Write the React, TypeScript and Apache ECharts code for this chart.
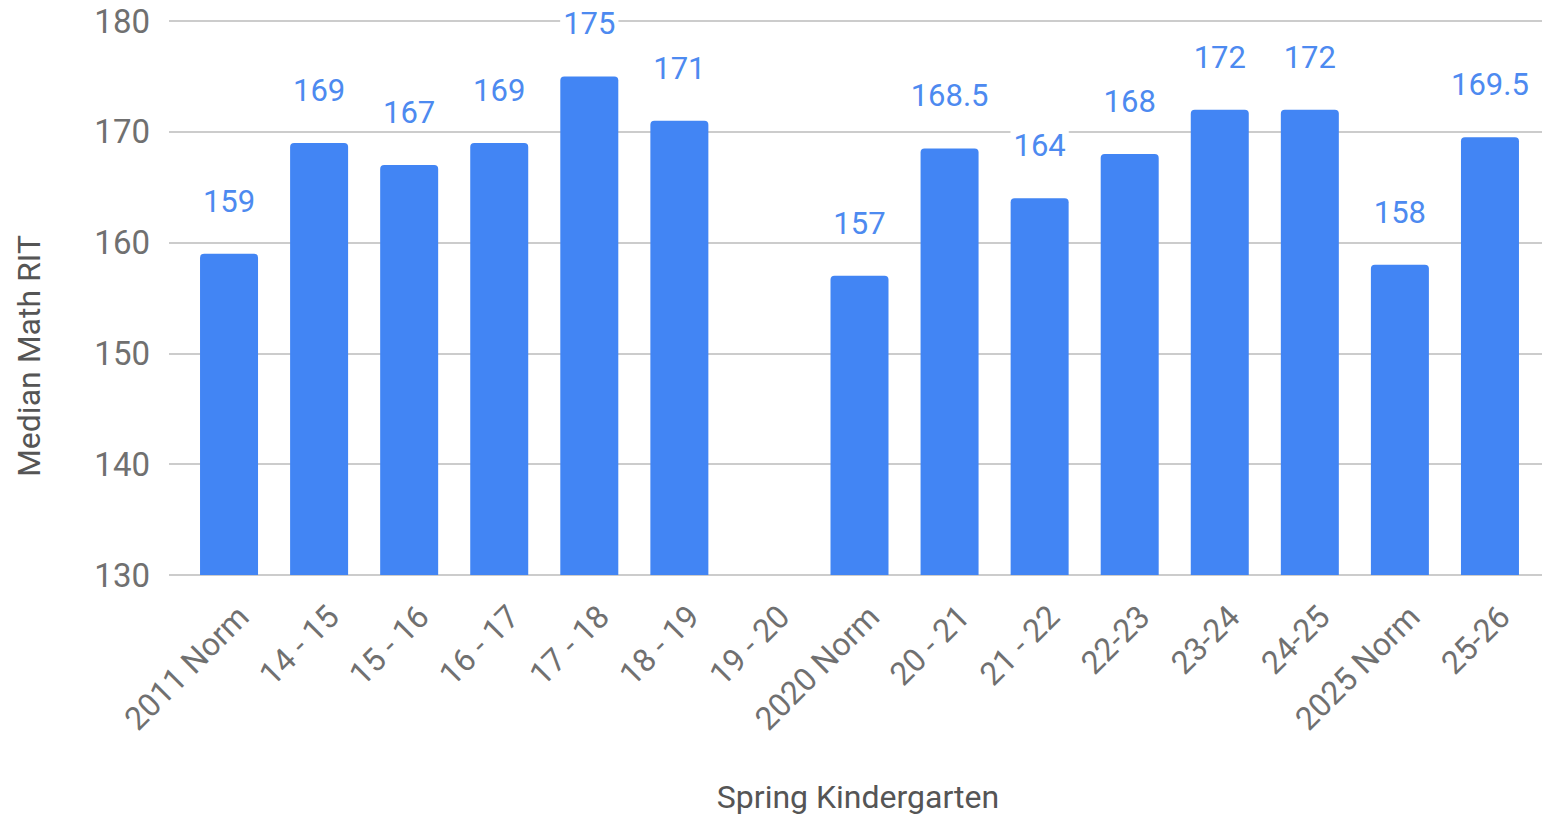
import React, { useEffect, useRef } from "react";
import * as echarts from "echarts";

const categories = [
  "2011 Norm", "14 - 15", "15 - 16", "16 - 17", "17 - 18", "18 - 19", "19 - 20",
  "2020 Norm", "20 - 21", "21 - 22", "22-23", "23-24", "24-25", "2025 Norm", "25-26",
];
const values: (number | null)[] = [
  159, 169, 167, 169, 175, 171, null, 157, 168.5, 164, 168, 172, 172, 158, 169.5,
];
const yMin = 130;
const yMax = 180;
const yInterval = 10;
const yTitle = "Median Math RIT";
const xTitle = "Spring Kindergarten";

const FONT = "Roboto, 'Noto Sans', sans-serif";

export default function App() {
  const ref = useRef<HTMLDivElement>(null);
  useEffect(() => {
    document.body.style.margin = "0";
    const chart = echarts.init(ref.current!, undefined, { renderer: "svg" });
    chart.setOption({
      animation: false,
      textStyle: { fontFamily: FONT },
      grid: [
        { left: 169, right: 0, top: 21, bottom: 242 },
        { left: 184, right: 7, top: 21, bottom: 242 },
      ],
      xAxis: [
        { type: "category", gridIndex: 0, data: categories, show: false },
        {
          type: "category",
          gridIndex: 1,
          data: categories,
          axisLine: { show: false },
          axisTick: { show: false },
          axisLabel: {
            interval: 0,
            rotate: 45,
            margin: 22,
            fontSize: 32,
            color: "#707070",
            fontFamily: FONT,
            verticalAlign: "top",
            lineHeight: 40,
          },
        },
      ],
      yAxis: [
        {
          type: "value",
          gridIndex: 0,
          min: yMin,
          max: yMax,
          interval: yInterval,
          axisLine: { show: false },
          axisTick: { show: false },
          axisLabel: { fontSize: 33, color: "#707070", margin: 19, fontFamily: FONT },
          splitLine: { lineStyle: { color: "#cccccc", width: 2 } },
        },
        {
          type: "value",
          gridIndex: 1,
          min: yMin,
          max: yMax,
          interval: yInterval,
          show: false,
        },
      ],
      series: [
        {
          type: "bar",
          xAxisIndex: 1,
          yAxisIndex: 1,
          data: values.map((v) => (v === null ? "-" : v)),
          barWidth: 58,
          itemStyle: { color: "#4285F4", borderRadius: [4, 4, 0, 0] },
          label: {
            show: true,
            position: "top",
            distance: 37,
            fontSize: 31,
            color: "#4d8af0",
            fontFamily: FONT,
            backgroundColor: "#ffffff",
            padding: [0, 3],
          },
        },
      ],
      graphic: [
        {
          type: "text",
          x: 29,
          y: 356,
          rotation: Math.PI / 2,
          style: {
            text: yTitle,
            fontSize: 32,
            fill: "#555555",
            fontFamily: FONT,
            align: "center",
            verticalAlign: "middle",
          },
        },
        {
          type: "text",
          x: 858,
          y: 797,
          style: {
            text: xTitle,
            fontSize: 32,
            fill: "#555555",
            fontFamily: FONT,
            align: "center",
            verticalAlign: "middle",
          },
        },
      ],
    });
    return () => chart.dispose();
  }, []);
  return <div ref={ref} style={{ width: 1542, height: 817 }} />;
}
